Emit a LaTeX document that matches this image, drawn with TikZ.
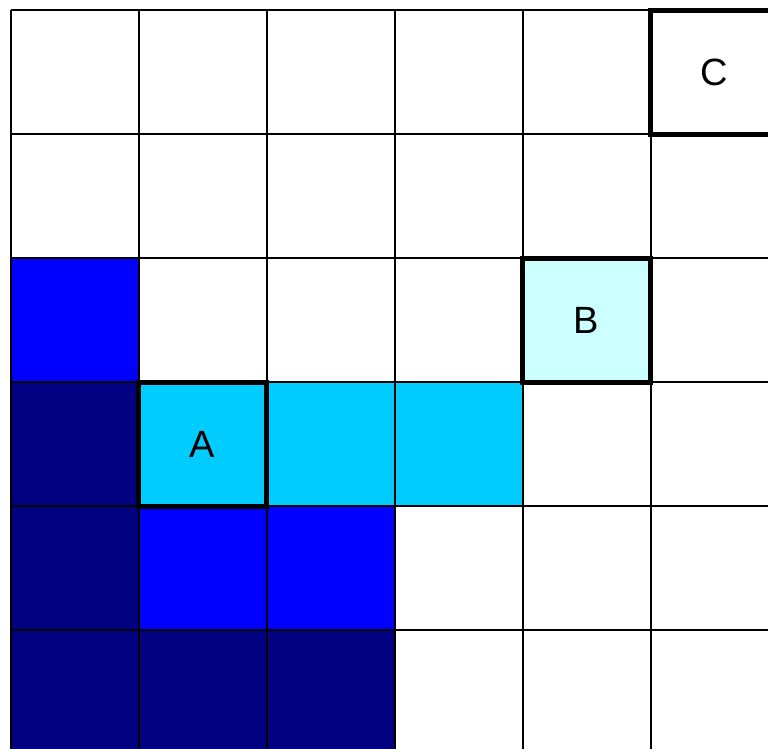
\documentclass[tikz,border=0pt]{standalone}
\usepackage{fontspec}
\setmainfont{Liberation Sans}
\definecolor{navycell}{RGB}{0,0,128}
\definecolor{bluecell}{RGB}{0,0,255}
\definecolor{cyancell}{RGB}{0,204,255}
\definecolor{lightcell}{RGB}{204,255,255}
\begin{document}
\begin{tikzpicture}[x=1pt,y=-1pt,
  gridline/.style={line width=2pt, black},
  markbox/.style={draw=black, line width=5pt, minimum width=128pt, minimum height=124pt,
    inner sep=0pt, outer sep=0pt, font=\fontsize{38}{38}\selectfont}]
\useasboundingbox (0,0) rectangle (768,748);
\clip (0,0) rectangle (768,748);
\fill[white] (0,0) rectangle (768,748);
\foreach \c/\r/\col in {0/2/bluecell, 0/3/navycell, 1/3/cyancell, 2/3/cyancell, 3/3/cyancell,
  0/4/navycell, 1/4/bluecell, 2/4/bluecell, 0/5/navycell, 1/5/navycell, 2/5/navycell}
  \fill[\col] ({10.5+128*\c},{10+124*\r}) rectangle ++(128,124);
\foreach \i in {0,...,5}
  \draw[gridline] ({10.5+128*\i},10) -- ({10.5+128*\i},770);
\foreach \j in {0,...,5}
  \draw[gridline] (10.5,{10+124*\j}) -- (790,{10+124*\j});
\node[markbox, fill=cyancell] (A) at (202.5,444) {A};
\node[markbox, fill=lightcell] (B) at (586.5,320) {B};
\node[markbox, fill=white] (C) at (714.5,72) {C};
\end{tikzpicture}
\end{document}
